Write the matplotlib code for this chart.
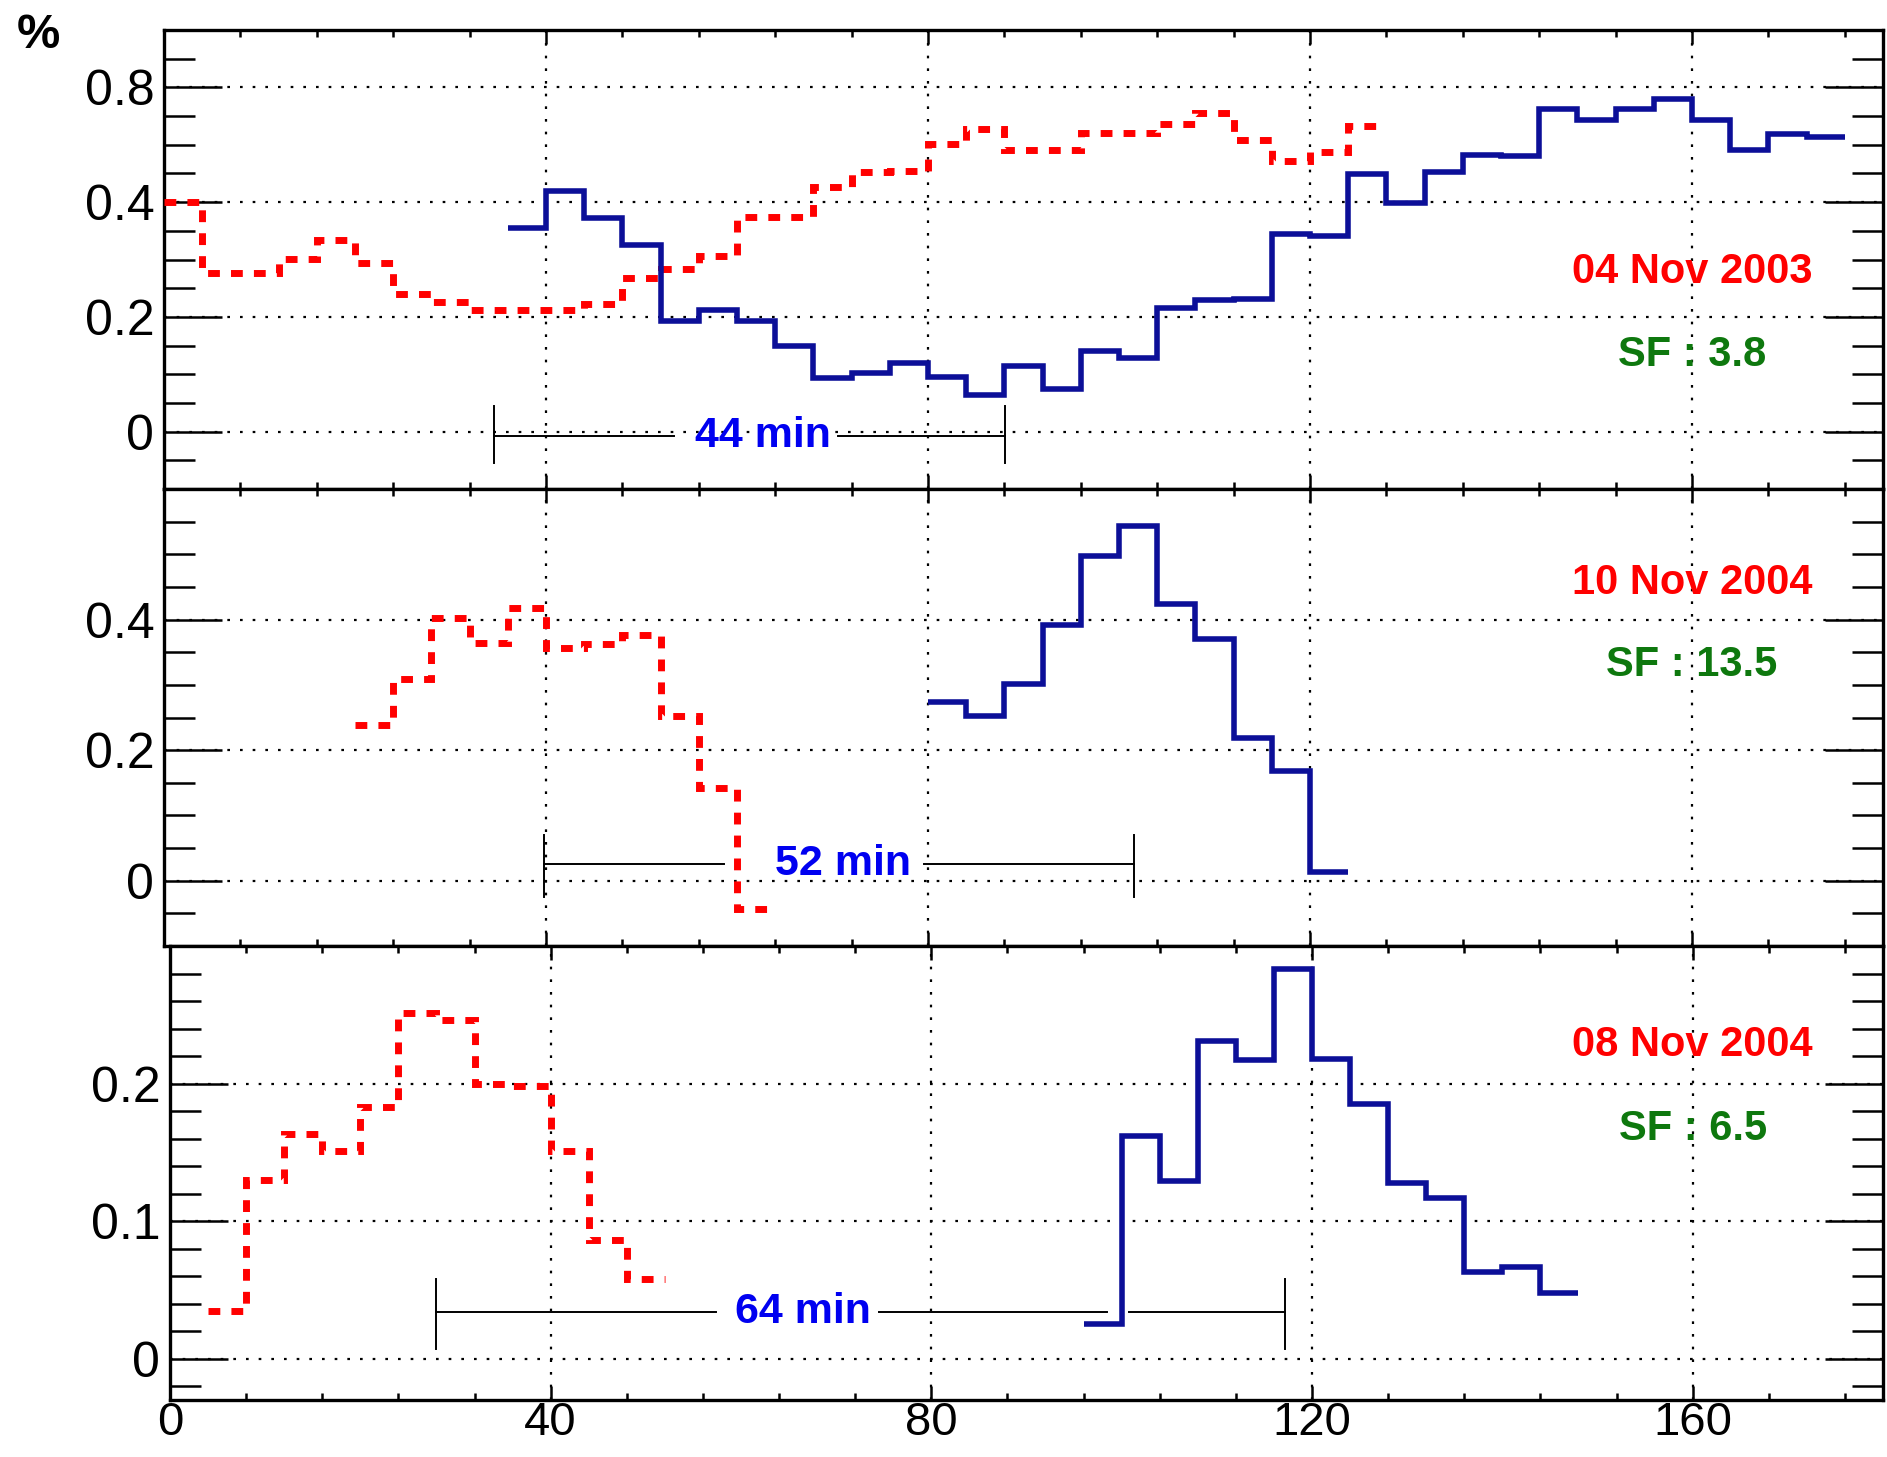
#!/usr/bin/env python3

import numpy as np
import matplotlib
matplotlib.use("Agg")
import matplotlib.pyplot as plt
from matplotlib.ticker import MultipleLocator

plt.rcParams['font.family'] = ['Liberation Sans', 'DejaVu Sans']

BIN = 4  # minutes per bin

# --- 04 Nov 2003 ---
red1_start = 0
red1 = [0.400, 0.277, 0.277, 0.301, 0.334, 0.294, 0.239, 0.226, 0.212, 0.212,
        0.212, 0.222, 0.268, 0.284, 0.306, 0.374, 0.374, 0.426, 0.452, 0.455,
        0.502, 0.527, 0.491, 0.491, 0.521, 0.521, 0.537, 0.555, 0.509, 0.471,
        0.488, 0.533]
blue1_start = 36
blue1 = [0.355, 0.419, 0.372, 0.326, 0.192, 0.212, 0.192, 0.150, 0.094, 0.102,
         0.120, 0.095, 0.063, 0.115, 0.075, 0.141, 0.129, 0.216, 0.229, 0.232,
         0.345, 0.341, 0.449, 0.399, 0.452, 0.482, 0.480, 0.563, 0.543, 0.562,
         0.580, 0.543, 0.491, 0.519, 0.513]

# --- 10 Nov 2004 ---
red2_start = 20
red2 = [0.238, 0.309, 0.402, 0.364, 0.418, 0.357, 0.362, 0.377, 0.253, 0.142,
        -0.044]
blue2_start = 80
blue2 = [0.274, 0.253, 0.302, 0.392, 0.498, 0.544, 0.424, 0.370, 0.218, 0.168,
         0.014]

# --- 08 Nov 2004 ---
red3_start = 4
red3 = [0.035, 0.130, 0.163, 0.151, 0.183, 0.251, 0.246, 0.200, 0.198, 0.151,
        0.0865, 0.058]
blue3_start = 96
blue3 = [0.0255, 0.162, 0.129, 0.231, 0.217, 0.283, 0.218, 0.185, 0.128, 0.117,
         0.063, 0.067, 0.048]

dates = ["04 Nov 2003", "10 Nov 2004", "08 Nov 2004"]
sf_labels = ["SF : 3.8", "SF : 13.5", "SF : 6.5"]
delays = ["44 min", "52 min", "64 min"]

# delay markers: bar positions, line height, text centre, gaps in the line
delay_bars = [(34.6, 88.1), (39.8, 101.6), (27.9, 117.2)]
delay_y = [-0.007, 0.026, 0.034]
delay_text_x = [62.7, 71.1, 66.5]
delay_gaps = [[(53.4, 70.6)], [(58.6, 79.6)], [(57.4, 74.5), (98.5, 100.8)]]
bar_span = [(-0.055, 0.045), (-0.025, 0.07), (0.007, 0.058)]

ylims = [(-0.1, 0.7), (-0.1, 0.6), (-0.03, 0.3)]
yticks = [[0, 0.2, 0.4, 0.6], [0, 0.2, 0.4], [0, 0.1, 0.2]]
yticklabels = [["0", "0.2", "0.4", "0.8"], ["0", "0.2", "0.4"], ["0", "0.1", "0.2"]]
yminor = [0.05, 0.05, 0.02]
date_y = [0.278, 0.456, 0.228]
sf_y = [0.133, 0.331, 0.167]

RED = '#ff0000'
NAVY = '#0c0f98'
BLUE_TXT = '#0000f0'
GREEN = '#0e780e'

W, H = 1887, 1457
fig = plt.figure(figsize=(W / 100, H / 100), dpi=100, facecolor='w')

boxes = [(164, 30, 1883, 489), (164, 489, 1883, 946), (170, 946, 1883, 1400)]
series = [(red1_start, red1, blue1_start, blue1),
          (red2_start, red2, blue2_start, blue2),
          (red3_start, red3, blue3_start, blue3)]

for i, (x0, y0, x1, y1) in enumerate(boxes):
    ax = fig.add_axes([x0 / W, 1 - y1 / H, (x1 - x0) / W, (y1 - y0) / H])
    rs, rv, bs, bv = series[i]
    redges = rs + BIN * np.arange(len(rv) + 1)
    bedges = bs + BIN * np.arange(len(bv) + 1)
    ax.stairs(rv, redges, baseline=None, color=RED, linewidth=5,
              linestyle=(0, (1.7, 1.6)), zorder=3)
    ax.stairs(bv, bedges, baseline=None, color=NAVY, linewidth=4, zorder=4)

    # delay marker
    xa, xb = delay_bars[i]
    yl = delay_y[i]
    pts = [xa]
    for g0, g1 in delay_gaps[i]:
        pts += [g0, g1]
    pts.append(xb)
    for k in range(0, len(pts), 2):
        ax.plot([pts[k], pts[k + 1]], [yl, yl], color='k', lw=1.4, zorder=5)
    for xv in (xa, xb):
        ax.plot([xv, xv], bar_span[i], color='k', lw=1.4, zorder=5)
    ax.text(delay_text_x[i], yl, delays[i], color=BLUE_TXT, fontsize=31,
            fontweight='bold', ha='center', va='center', zorder=6)

    ax.text(160, date_y[i], dates[i], color=RED, fontsize=30,
            fontweight='bold', ha='center', va='center')
    ax.text(160, sf_y[i], sf_labels[i], color=GREEN, fontsize=30,
            fontweight='bold', ha='center', va='center')

    ax.set_xlim(0, 180)
    ax.set_ylim(*ylims[i])
    ax.xaxis.set_major_locator(MultipleLocator(40))
    ax.xaxis.set_minor_locator(MultipleLocator(8))
    ax.set_yticks(yticks[i])
    ax.set_yticklabels(yticklabels[i])
    ax.yaxis.set_minor_locator(MultipleLocator(yminor[i]))

    ax.tick_params(which='both', direction='in', top=True, right=True,
                   width=1.8, color='k')
    ax.tick_params(axis='y', which='major', length=42, pad=7, labelsize=36)
    ax.tick_params(axis='y', which='minor', length=22)
    ax.tick_params(axis='x', which='major', length=10, pad=1, labelsize=34)
    ax.tick_params(axis='x', which='minor', length=5)
    if i < 2:
        ax.tick_params(axis='x', labelbottom=False)

    ax.grid(True, which='major', color='k', linestyle=(0, (1.2, 4.5)),
            linewidth=1.6)
    ax.set_axisbelow(True)
    for sp in ax.spines.values():
        sp.set_linewidth(2.4)

fig.text(38.5 / W, 1 - 36 / H, '%', fontsize=35, fontweight='bold',
         ha='center', va='center')

fig.savefig('out.png', dpi=100)
